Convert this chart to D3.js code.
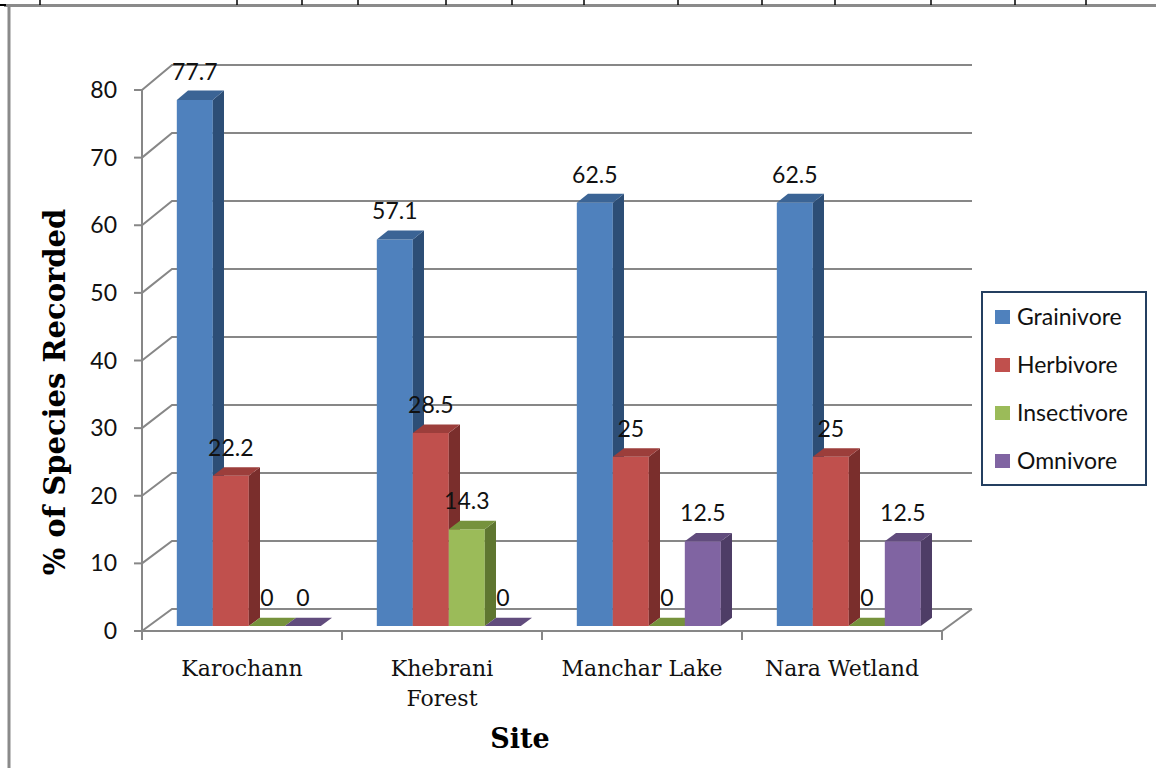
<!DOCTYPE html>
<html>
<head>
<meta charset="utf-8">
<script src="https://cdn.jsdelivr.net/npm/d3@7"></script>
<style>
  html, body { margin: 0; padding: 0; background: #fff; }
  svg { display: block; }
</style>
</head>
<body>
<svg id="chart" width="1156" height="768"></svg>
<script>
// Feeding guilds of bird species recorded at each site (%)
const sites = ["Karochann", "Khebrani Forest", "Manchar Lake", "Nara Wetland"];
const siteLines = [["Karochann"], ["Khebrani", "Forest"], ["Manchar Lake"], ["Nara Wetland"]];
const guilds = ["Grainivore", "Herbivore", "Insectivore", "Omnivore"];
const grainivore = [77.7, 57.1, 62.5, 62.5];
const herbivore = [22.2, 28.5, 25, 25];
const insectivore = [0, 14.3, 0, 0];
const omnivore = [0, 0, 12.5, 12.5];
const yTicks = [0, 10, 20, 30, 40, 50, 60, 70, 80];

const seriesValues = [grainivore, herbivore, insectivore, omnivore];

// face colours per guild: front, top, side
const palette = {
  Grainivore:  { front: "#4F81BD", top: "#3B6495", side: "#2D4E76" },
  Herbivore:   { front: "#C0504D", top: "#9C3E3B", side: "#7A2E2C" },
  Insectivore: { front: "#9BBB59", top: "#76923C", side: "#5F7630" },
  Omnivore:    { front: "#8064A2", top: "#614C7D", side: "#4E3D66" }
};

const svg = d3.select("#chart");
const gridColor = "#878787";
const sansFont = "Lato, 'Open Sans', sans-serif";
const serifFont = "'DejaVu Serif', serif";

// page frame: ruler line along the top and margin rule on the left
const frame = svg.append("g");
frame.append("line").attr("x1", 4).attr("x2", 1156).attr("y1", 5.5).attr("y2", 5.5)
  .attr("stroke", "#8a8a8a").attr("stroke-width", 3);
frame.append("line").attr("x1", 9).attr("x2", 9).attr("y1", 5).attr("y2", 768)
  .attr("stroke", "#8a8a8a").attr("stroke-width", 3);
frame.append("line").attr("x1", 0).attr("x2", 6).attr("y1", 5).attr("y2", 5)
  .attr("stroke", "#000").attr("stroke-width", 2);
[40, 237, 302, 358, 446, 512, 584, 678, 762, 835, 931, 1015, 1086].forEach(x => {
  frame.append("line").attr("x1", x).attr("x2", x).attr("y1", 0).attr("y2", 5)
    .attr("stroke", "#000").attr("stroke-width", 1.5);
});

// 3D projection: front plane and back wall, depth t in [0,1]
const depthX = 30;
const yFront = d3.scaleLinear().domain([0, 80]).range([631, 90]);
const yBack = d3.scaleLinear().domain([0, 80]).range([609, 65]);
const xLeft = 142, xRight = 942;
function proj(x, v, t) {
  const yf = yFront(v), yb = yBack(v);
  return [x + depthX * t, yf + t * (yb - yf)];
}

const xCat = d3.scaleBand().domain(sites).range([xLeft, xRight]);
const xSer = d3.scaleBand().domain(guilds).range([28, 172]);

// walls: gridlines on side wall and back wall
const grid = svg.append("g").attr("stroke", gridColor).attr("stroke-width", 2).attr("fill", "none");
yTicks.forEach(v => {
  const a = proj(xLeft, v, 0), b = proj(xLeft, v, 1), c = proj(xRight, v, 1);
  grid.append("polyline").attr("points", [a, b, c].map(p => p.join(",")).join(" "));
});
// floor front and right edges
{
  const a = proj(xLeft, 0, 0), b = proj(xRight, 0, 0), c = proj(xRight, 0, 1);
  grid.append("polyline").attr("points", [a, b, c].map(p => p.join(",")).join(" "));
}
// vertical axis line and ticks
grid.append("line").attr("x1", xLeft).attr("x2", xLeft)
  .attr("y1", yFront(80)).attr("y2", yFront(0) + 9);
yTicks.forEach(v => {
  grid.append("line").attr("x1", xLeft - 8).attr("x2", xLeft)
    .attr("y1", yFront(v)).attr("y2", yFront(v));
});
// category boundary ticks
sites.forEach(s => {
  const x = xCat(s) + xCat.bandwidth();
  grid.append("line").attr("x1", x).attr("x2", x)
    .attr("y1", yFront(0)).attr("y2", yFront(0) + 9);
});

// y tick labels
svg.append("g").selectAll("text").data(yTicks).join("text")
  .attr("x", 117).attr("y", d => yFront(d) + 8)
  .attr("text-anchor", "end")
  .attr("font-family", sansFont).attr("font-size", 23).attr("fill", "#111")
  .text(d => d);

// bars (drawn left to right so each bar hides the side of the previous)
const t1 = 0.227, t2 = 0.6;
const bars = svg.append("g");
const labels = [];
sites.forEach((s, i) => {
  guilds.forEach((g, j) => {
    const v = seriesValues[j][i];
    const x0 = xCat(s) + xSer(g), x1 = x0 + xSer.bandwidth();
    const c = palette[g];
    const pts = arr => arr.map(p => p.join(",")).join(" ");
    bars.append("polygon").attr("fill", c.front)
      .attr("points", pts([proj(x0, 0, t1), proj(x1, 0, t1), proj(x1, v, t1), proj(x0, v, t1)]));
    bars.append("polygon").attr("fill", c.side)
      .attr("points", pts([proj(x1, 0, t1), proj(x1, 0, t2), proj(x1, v, t2), proj(x1, v, t1)]));
    bars.append("polygon").attr("fill", c.top)
      .attr("points", pts([proj(x0, v, t1), proj(x1, v, t1), proj(x1, v, t2), proj(x0, v, t2)]));
    const top = proj((x0 + x1) / 2, v, t1);
    labels.push({ x: top[0], y: top[1] - 20, v });
  });
});

// value labels
svg.append("g").selectAll("text").data(labels).join("text")
  .attr("x", d => d.x).attr("y", d => d.y)
  .attr("text-anchor", "middle")
  .attr("font-family", sansFont).attr("font-size", 23).attr("fill", "#111")
  .text(d => d.v);

// category labels
const cat = svg.append("g");
sites.forEach((s, i) => {
  const cx = xCat(s) + xCat.bandwidth() / 2;
  siteLines[i].forEach((line, k) => {
    cat.append("text").attr("x", cx).attr("y", 676 + k * 30)
      .attr("text-anchor", "middle")
      .attr("font-family", serifFont).attr("font-size", 22).attr("fill", "#111")
      .text(line);
  });
});

// axis titles
svg.append("text").attr("x", 520).attr("y", 748)
  .attr("text-anchor", "middle")
  .attr("font-family", serifFont).attr("font-weight", "bold").attr("font-size", 27)
  .attr("fill", "#000").text("Site");
svg.append("text")
  .attr("transform", "translate(65,392) rotate(-90)")
  .attr("text-anchor", "middle")
  .attr("font-family", serifFont).attr("font-weight", "bold").attr("font-size", 29)
  .attr("fill", "#000").text("% of Species Recorded");

// legend
const legend = svg.append("g");
legend.append("rect").attr("x", 982).attr("y", 292).attr("width", 164).attr("height", 193)
  .attr("fill", "#fff").attr("stroke", "#243F60").attr("stroke-width", 2);
guilds.forEach((g, j) => {
  const cy = 317 + j * 48;
  legend.append("rect").attr("x", 995).attr("y", cy - 7).attr("width", 15).attr("height", 14)
    .attr("fill", palette[g].front);
  legend.append("text").attr("x", 1017).attr("y", cy + 8)
    .attr("font-family", sansFont).attr("font-size", 23).attr("fill", "#111")
    .text(g);
});
</script>
</body>
</html>
